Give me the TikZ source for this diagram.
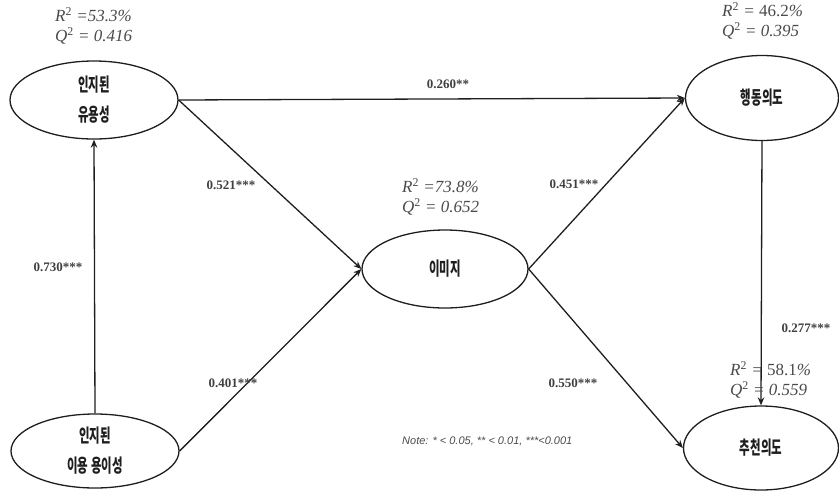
\documentclass[tikz,border=0pt]{standalone}
\usepackage{fontspec}
\setmainfont{Liberation Serif}
\newfontfamily\krfont[FakeStretch=0.62]{Noto Sans CJK KR}
\newfontfamily\notefont{Liberation Sans}
\usetikzlibrary{arrows.meta,shapes.geometric}
\definecolor{ink}{HTML}{1E1E1E}
\definecolor{rqgray}{HTML}{4A4A4A}
\tikzset{
  lv/.style={ellipse, draw=ink, line width=1.3pt, inner sep=0pt, align=center,
    text=ink, font=\krfont\bfseries\fontsize{18.5}{30}\selectfont},
  pathline/.style={draw=ink, line width=1.3pt, -{Stealth[length=8pt,width=6.5pt]}},
  coef/.style={font=\bfseries\fontsize{13}{15}\selectfont, text=ink!85, inner sep=0pt},
  rq/.style={align=left, anchor=north west, inner sep=0pt, text=rqgray,
    font=\itshape\fontsize{17}{20}\selectfont},
  notestyle/.style={anchor=west, inner sep=0pt, text=rqgray,
    font=\notefont\itshape\fontsize{11}{13}\selectfont}
}
\begin{document}
\begin{tikzpicture}[x=1pt,y=-1pt]
\useasboundingbox (0,0) rectangle (839,491);
% latent variables
\node[lv, minimum width=168pt, minimum height=78pt] (pu) at (94,100) {인지된\\유용성};
\node[lv, minimum width=168pt, minimum height=74pt] (peu) at (95,451) {인지된\\이용 용이성};
\node[lv, minimum width=166pt, minimum height=78pt] (img) at (445,269) {이미지};
\node[lv, minimum width=153pt, minimum height=85pt] (bi) at (762,98) {행동의도};
\node[lv, minimum width=155pt, minimum height=84pt] (ri) at (761,448) {추천의도};
% paths
\draw[pathline] (pu.east) -- (bi.west);
\draw[pathline] (pu.east) -- (img.west);
\draw[pathline] (peu.north) -- (pu.south);
\draw[pathline] (peu.east) -- (img.west);
\draw[pathline] (img.east) -- (bi.west);
\draw[pathline] (img.east) -- (ri.west);
\draw[pathline] (bi.south) -- (ri.north);
% coefficients
\node[coef] (c1) at (448,84) {0.260**};
\node[coef] (c2) at (231,185) {0.521***};
\node[coef] (c3) at (58,267) {0.730***};
\node[coef] (c4) at (233,383) {0.401***};
\node[coef] (c5) at (574,184) {0.451***};
\node[coef] (c6) at (573,383) {0.550***};
\node[coef] (c7) at (806,328) {0.277***};
% R2 / Q2
\node[rq] (rq1) at (55,7) {R\textsuperscript{\upshape 2} =53.3\%\\Q\textsuperscript{\upshape 2} = 0.416};
\node[rq] (rq2) at (722,2) {R\textsuperscript{\upshape 2} = {\upshape 46.2}\%\\Q\textsuperscript{\upshape 2} = 0.395};
\node[rq] (rq3) at (402,178) {R\textsuperscript{\upshape 2} =73.8\%\\Q\textsuperscript{\upshape 2} = 0.652};
\node[rq] (rq4) at (730,361) {R\textsuperscript{\upshape 2} = {\upshape 58.1}\%\\Q\textsuperscript{\upshape 2} = 0.559};
% note
\node[notestyle] (note) at (402,441) {Note: * < 0.05, ** < 0.01, ***<0.001};
\end{tikzpicture}
\end{document}
